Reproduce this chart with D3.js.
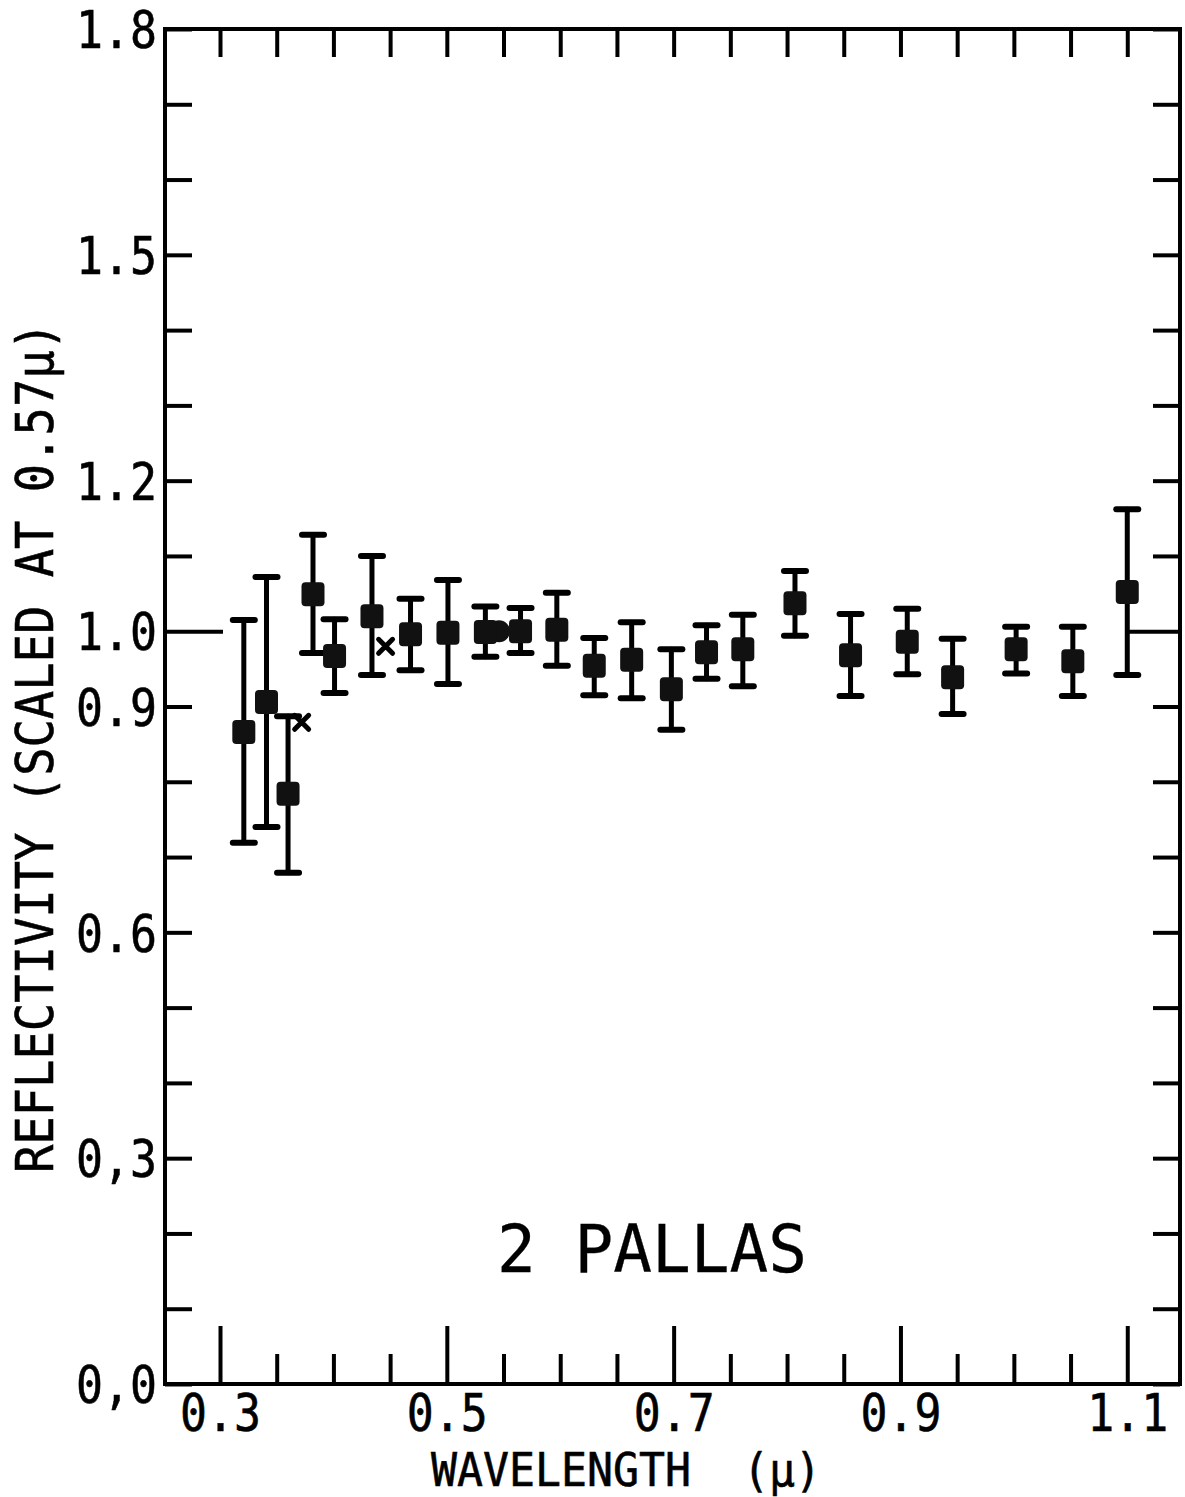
<!DOCTYPE html>
<html>
<head>
<meta charset="utf-8">
<script src="https://cdn.jsdelivr.net/npm/d3@7"></script>
<style>
  body { margin: 0; background: #fff; }
  svg { display: block; }
</style>
</head>
<body>
<svg id="chart" width="1185" height="1497"></svg>
<script>
// Filter photometry of 2 Pallas, normalised at 0.57 micron
const wavelength   = [0.321, 0.341, 0.360, 0.382, 0.401, 0.434, 0.468, 0.501, 0.534, 0.565, 0.597, 0.630,
                      0.663, 0.698, 0.729, 0.761, 0.807, 0.856, 0.906, 0.946, 1.002, 1.052, 1.100];
const reflectivity = [0.866, 0.906, 0.784, 1.049, 0.967, 1.020, 0.996, 0.998, 0.999, 1.000, 1.002, 0.954,
                      0.962, 0.923, 0.972, 0.976, 1.037, 0.968, 0.986, 0.939, 0.976, 0.960, 1.052];
const errHigh      = [1.015, 1.072, 0.887, 1.128, 1.016, 1.100, 1.043, 1.068, 1.033, 1.031, 1.051, 0.991,
                      1.012, 0.976, 1.008, 1.022, 1.080, 1.023, 1.030, 0.990, 1.006, 1.006, 1.162];
const errLow       = [0.719, 0.740, 0.679, 0.971, 0.918, 0.942, 0.948, 0.930, 0.966, 0.971, 0.954, 0.915,
                      0.911, 0.869, 0.937, 0.927, 0.994, 0.914, 0.943, 0.890, 0.944, 0.914, 0.942];

// Additional observations plotted with other symbols
const crossWavelength   = [0.372, 0.446];
const crossReflectivity = [0.879, 0.980];
const circleWavelength   = [0.546];
const circleReflectivity = [1.000];

// Axis ticks and labels
const yTickValues  = [0.0, 0.1, 0.2, 0.3, 0.4, 0.5, 0.6, 0.7, 0.8, 0.9, 1.0, 1.1, 1.2, 1.3, 1.4, 1.5, 1.6, 1.7, 1.8];
const yLabelValues = [0.0, 0.3, 0.6, 0.9, 1.0, 1.2, 1.5, 1.8];
const yLabels      = ["0,0", "0,3", "0.6", "0.9", "1.0", "1.2", "1.5", "1.8"];
const xTickValues  = [0.30, 0.35, 0.40, 0.45, 0.50, 0.55, 0.60, 0.65, 0.70, 0.75, 0.80, 0.85, 0.90, 0.95, 1.00, 1.05, 1.10];
const xLabelValues = [0.3, 0.5, 0.7, 0.9, 1.1];
const xLabels      = ["0.3", "0.5", "0.7", "0.9", "1.1"];
const referenceLevel = 1.0;

const FONT = "'DejaVu Sans Mono', 'Liberation Mono', monospace";
const INK = "#000";

const frame = { left: 165, right: 1180, top: 29, bottom: 1384 };
const x = d3.scaleLinear().domain([0.2515, 1.1465]).range([frame.left, frame.right]);
const y = d3.scaleLinear().domain([0, 1.8]).range([frame.bottom, frame.top]);

const svg = d3.select("#chart");
svg.append("rect").attr("width", 1185).attr("height", 1497).attr("fill", "#fff");

// Plot frame
svg.append("rect")
  .attr("x", frame.left).attr("y", frame.top)
  .attr("width", frame.right - frame.left).attr("height", frame.bottom - frame.top)
  .attr("fill", "none").attr("stroke", INK).attr("stroke-width", 4);

// Plotter-style lettering: monospace glyphs with a light outline to thicken strokes
function letter(sel, size) {
  return sel.attr("fill", INK).attr("stroke", INK).attr("stroke-width", 0.6)
    .style("font-family", FONT).style("font-size", size + "px");
}

function styleAxis(g, size) {
  g.select(".domain").remove();
  g.selectAll(".tick line").attr("stroke", INK).attr("stroke-width", 4);
  letter(g.selectAll(".tick text"), size || 52);
}

function compressText(sel, perChar) {
  sel.each(function () {
    const t = d3.select(this);
    const n = t.text().length;
    if (n) t.attr("textLength", n * perChar).attr("lengthAdjust", "spacingAndGlyphs");
  });
}

const yLabelMap = new Map(yLabelValues.map((v, i) => [v.toFixed(1), yLabels[i]]));
const xLabelMap = new Map(xLabelValues.map((v, i) => [v.toFixed(2), xLabels[i]]));

// Left axis (inward ticks, labels outside)
const leftAxis = svg.append("g")
  .attr("transform", `translate(${frame.left},0)`)
  .call(d3.axisLeft(y).tickValues(yTickValues).tickSize(-27).tickPadding(8)
    .tickFormat(d => yLabelMap.get(d.toFixed(1)) || ""))
  .call(styleAxis);
leftAxis.selectAll(".tick text").attr("dy", "0.36em");
compressText(leftAxis.selectAll(".tick text"), 27);
leftAxis.selectAll(".tick").filter(d => Math.abs(d - referenceLevel) < 1e-9)
  .select("line").attr("x2", 58);

// Right axis
const rightAxis = svg.append("g")
  .attr("transform", `translate(${frame.right},0)`)
  .call(d3.axisRight(y).tickValues(yTickValues).tickSize(-27).tickFormat(""))
  .call(styleAxis);
rightAxis.selectAll(".tick").filter(d => Math.abs(d - referenceLevel) < 1e-9)
  .select("line").attr("x2", -(frame.right - x(1.1)));

// Top axis
svg.append("g")
  .attr("transform", `translate(0,${frame.top})`)
  .call(d3.axisTop(x).tickValues(xTickValues).tickSize(-28).tickFormat(""))
  .call(styleAxis);

// Bottom axis: long ticks at labelled values, short ones between
const isMajor = d => xLabelValues.some(v => Math.abs(v - d) < 1e-9);
svg.append("g")
  .attr("transform", `translate(0,${frame.bottom})`)
  .call(d3.axisBottom(x).tickValues(xTickValues.filter(d => !isMajor(d))).tickSize(-30).tickFormat(""))
  .call(styleAxis);
const bottomAxis = svg.append("g")
  .attr("transform", `translate(0,${frame.bottom})`)
  .call(d3.axisBottom(x).tickValues(xLabelValues).tickSize(-58).tickPadding(11)
    .tickFormat(d => xLabelMap.get(d.toFixed(2))))
  .call(g => styleAxis(g, 51));
bottomAxis.selectAll(".tick text").attr("dy", "0.71em");
compressText(bottomAxis.selectAll(".tick text"), 27);

// Axis titles
letter(svg.append("text"), 52)
  .attr("transform", `translate(53,${(1173 + 322) / 2}) rotate(-90)`)
  .attr("text-anchor", "middle")
  .attr("textLength", 851).attr("lengthAdjust", "spacingAndGlyphs")
  .text("REFLECTIVITY (SCALED AT 0.57\u03bc)");

letter(svg.append("text"), 46)
  .attr("x", 626).attr("y", 1486)
  .attr("text-anchor", "middle")
  .attr("textLength", 390).attr("lengthAdjust", "spacingAndGlyphs")
  .attr("xml:space", "preserve")
  .text("WAVELENGTH  (\u03bc)");

// Object name
letter(svg.append("text"), 65)
  .attr("x", 652).attr("y", 1272)
  .attr("text-anchor", "middle")
  .attr("textLength", 310).attr("lengthAdjust", "spacingAndGlyphs")
  .attr("stroke-width", 0.3)
  .text("2 PALLAS");

// Error bars
const points = wavelength.map((w, i) => ({ w, r: reflectivity[i], hi: errHigh[i], lo: errLow[i] }));
const bars = svg.append("g").attr("stroke", INK).attr("stroke-width", 5).attr("stroke-linecap", "round");
bars.selectAll("line.stem").data(points).join("line").attr("class", "stem")
  .attr("x1", d => x(d.w)).attr("x2", d => x(d.w))
  .attr("y1", d => y(d.hi)).attr("y2", d => y(d.lo));
bars.selectAll("line.cap-hi").data(points).join("line").attr("class", "cap-hi")
  .attr("x1", d => x(d.w) - 11).attr("x2", d => x(d.w) + 11)
  .attr("y1", d => y(d.hi)).attr("y2", d => y(d.hi))
  .attr("stroke-width", 6);
bars.selectAll("line.cap-lo").data(points).join("line").attr("class", "cap-lo")
  .attr("x1", d => x(d.w) - 11).attr("x2", d => x(d.w) + 11)
  .attr("y1", d => y(d.lo)).attr("y2", d => y(d.lo))
  .attr("stroke-width", 6);

// Circle marker
svg.append("g").selectAll("circle")
  .data(circleWavelength.map((w, i) => ({ w, r: circleReflectivity[i] })))
  .join("circle")
  .attr("cx", d => x(d.w)).attr("cy", d => y(d.r)).attr("r", 11)
  .attr("fill", "#111");

// Square markers
svg.append("g").selectAll("rect")
  .data(points)
  .join("rect")
  .attr("x", d => x(d.w) - 11.5).attr("y", d => y(d.r) - 12)
  .attr("width", 23).attr("height", 24).attr("rx", 4)
  .attr("fill", "#111");

// Cross markers
const crosses = crossWavelength.map((w, i) => ({ w, r: crossReflectivity[i] }));
svg.append("g").attr("stroke", INK).attr("stroke-width", 5).attr("stroke-linecap", "round")
  .selectAll("path").data(crosses).join("path")
  .attr("d", d => {
    const cx = x(d.w), cy = y(d.r), s = 7;
    return `M${cx - s},${cy - s}L${cx + s},${cy + s}M${cx - s},${cy + s}L${cx + s},${cy - s}`;
  });
</script>
</body>
</html>
